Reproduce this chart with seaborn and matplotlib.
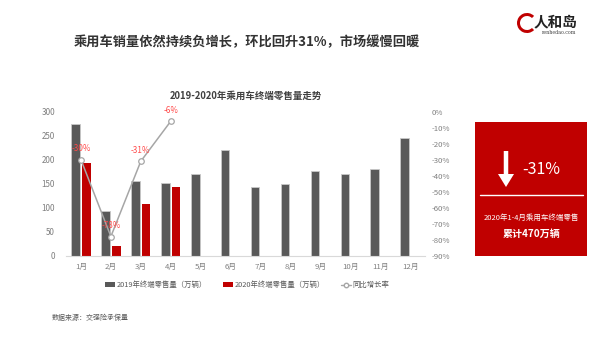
import numpy as np
import pandas as pd
import matplotlib
matplotlib.use("Agg")
import matplotlib.pyplot as plt
import seaborn as sns
from matplotlib.patches import Patch, Rectangle, FancyArrow, Wedge
from matplotlib.lines import Line2D

# ---------------- data ----------------
months = ['1月', '2月', '3月', '4月', '5月', '6月', '7月', '8月', '9月', '10月', '11月', '12月']
sales_2019 = [275, 94, 156, 151, 171, 220, 143, 150, 176, 170, 181, 245]
sales_2020 = [193, 20, 108, 143]
yoy_growth = [-30, -78, -31, -6]
left_ticks = [0, 50, 100, 150, 200, 250, 300]
right_ticks = [0, -10, -20, -30, -40, -50, -60, -70, -80, -90]
series_names = ['2019年终端零售量（万辆）', '2020年终端零售量（万辆）', '同比增长率']

main_title = '乘用车销量依然持续负增长，环比回升31%，市场缓慢回暖'
chart_title = '2019-2020年乘用车终端零售量走势'
source_text = '数据来源：交强险承保量'
box_big = '-31%'
box_line1 = '2020年1-4月乘用车终端零售'
box_line2 = '累计470万辆'

# ---------------- style ----------------
sns.set_theme(style='white')
plt.rcParams['font.family'] = ['Noto Sans CJK SC', 'DejaVu Sans']
plt.rcParams['axes.unicode_minus'] = False

c2019 = '#595959'
c2020 = '#C00000'
cline = '#A6A6A6'
clabel = '#FF4B4B'
ctick = '#7F7F7F'

df = pd.DataFrame({
    'month': months + months[:len(sales_2020)],
    'value': sales_2019 + sales_2020,
    'series': [series_names[0]] * len(sales_2019) + [series_names[1]] * len(sales_2020),
})

W, H = 600, 337
fig = plt.figure(figsize=(W / 100, H / 100), dpi=100)
fig.patch.set_facecolor('white')

ax = fig.add_axes([66 / W, 1 - 255.7 / H, 359 / W, 144 / H])
sns.barplot(data=df, x='month', y='value', hue='series', order=months,
            hue_order=series_names[:2], palette=[c2019, c2020],
            width=0.72, gap=0.2, ax=ax, legend=False, linewidth=0, saturation=1)
for p in ax.patches:
    fc = p.get_facecolor()
    if abs(fc[0] - 0x59 / 255) < 0.02:
        p.set_edgecolor('#C8C8C8')
        p.set_linewidth(0.6)

ax.set_xlim(-0.5, len(months) - 0.5)
ax.set_ylim(0, 300)
ax.set_yticks(left_ticks)
ax.set_xlabel('')
ax.set_ylabel('')
for s in ['left', 'right', 'top']:
    ax.spines[s].set_visible(False)
ax.spines['bottom'].set_color('#D9D9D9')
ax.spines['bottom'].set_linewidth(0.8)
ax.tick_params(axis='x', length=0, pad=5, labelsize=5.6, colors=ctick)
ax.tick_params(axis='y', length=0, pad=8, labelsize=5.8, colors=ctick)
ax.set_title(chart_title, fontsize=6.8, fontweight='bold', color='#404040', pad=9)

ax2 = ax.twinx()
x_pos = np.arange(len(yoy_growth))
sns.lineplot(x=x_pos, y=yoy_growth, ax=ax2, color=cline, linewidth=1.1,
             marker='o', markersize=4, markerfacecolor='white',
             markeredgecolor=cline, markeredgewidth=0.9)
ax2.set_ylim(-90, 0)
ax2.set_yticks(right_ticks)
ax2.set_yticklabels([f'{v}%' for v in right_ticks])
for s in ['left', 'right', 'top', 'bottom']:
    ax2.spines[s].set_visible(False)
ax2.tick_params(axis='y', length=0, pad=5, labelsize=5.6, colors=ctick)
ax2.set_ylabel('')
for xi, v in zip(x_pos, yoy_growth):
    ax2.annotate(f'{v}%', (xi, v), xytext=(0, 8), textcoords='offset points',
                 ha='center', va='center', fontsize=5.8, color=clabel)

# legend
handles = [
    Patch(facecolor=c2019, edgecolor='none'),
    Patch(facecolor=c2020, edgecolor='none'),
    Line2D([0], [0], color=cline, lw=1.0, marker='o', markersize=3.2,
           markerfacecolor='white', markeredgecolor=cline),
]
leg = fig.legend(handles, series_names, loc='center', ncol=3,
                 bbox_to_anchor=(247 / W, 1 - 285 / H), frameon=False,
                 fontsize=5.3, handlelength=1.4, handleheight=0.6,
                 handletextpad=0.15, columnspacing=2.2, labelcolor='#595959')

# overlay for decorations
ov = fig.add_axes([0, 0, 1, 1], zorder=5)
ov.set_xlim(0, W)
ov.set_ylim(H, 0)
ov.axis('off')
ov.patch.set_alpha(0)

ov.text(247, 42, main_title, ha='center', va='center', fontsize=9.5,
        fontweight='bold', color='#333333')
ov.text(52, 318, source_text, ha='left', va='center', fontsize=5, color='#595959')

# red box
ov.add_patch(Rectangle((475, 122.3), 111.7, 133.4, facecolor=c2020, edgecolor='none'))
ov.add_patch(FancyArrow(506, 151, 0, 36, width=4.5, head_width=16, head_length=13,
                        length_includes_head=True, color='white', lw=0))
ov.text(541, 169, box_big, ha='center', va='center', fontsize=11.5, color='white')
ov.plot([480, 583], [195.3, 195.3], color='white', lw=1.0)
ov.text(531.5, 217.7, box_line1, ha='center', va='center', fontsize=5.4, color='white')
ov.text(531.5, 234.3, box_line2, ha='center', va='center', fontsize=7.2,
        fontweight='bold', color='white')

# logo
ov.add_patch(Wedge((527, 23), 10, 45, 315, width=3, facecolor='#C00000', edgecolor='none'))
ov.text(555, 21, '人和岛', ha='center', va='center', fontsize=10.5, fontweight='bold',
        color='#222222')
ov.text(559, 33, 'renhedao.com', ha='center', va='center', fontsize=3.4, color='#444444',
        family='DejaVu Serif')

fig.savefig('out.png', dpi=100, facecolor='white')
